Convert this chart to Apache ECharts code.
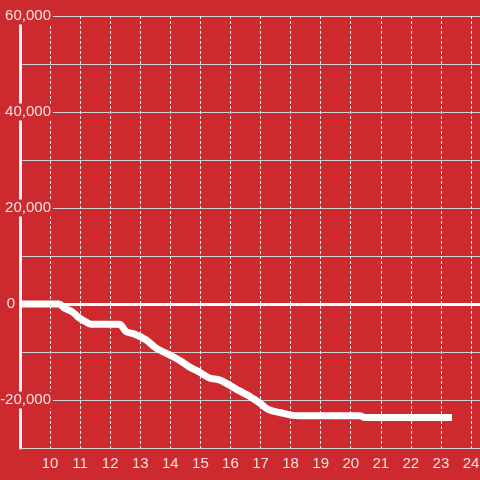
<!DOCTYPE html>
<html>
<head>
<meta charset="utf-8">
<script src="https://cdn.jsdelivr.net/npm/echarts@6/dist/echarts.min.js"></script>
<style>
  html, body { margin: 0; padding: 0; background: #cd2a2f; }
  #myChart { width: 480px; height: 480px; }
</style>
</head>
<body>
<div id="myChart"></div>
<script>
// hour of day
var hours = [9, 10.3, 10.47, 10.73, 10.97, 11.2, 11.37, 12.3, 12.53, 12.8, 13.2, 13.53, 13.97, 14.3, 14.63,
  14.97, 15.3, 15.63, 15.97, 16.3, 16.63, 16.97, 17.13, 17.3, 17.63, 17.97, 18.3, 20.3, 20.47, 23.37]
// running balance
var balance = [0, 0, -850, -1600, -2900, -3750, -4230, -4230, -5750, -6250, -7500, -9200, -10600, -11700, -13100,
  -14200, -15400, -15800, -16900, -18100, -19200, -20600, -21450, -22100, -22600, -23100, -23300, -23300, -23650, -23650]
var yTicks = [-20000, 0, 20000, 40000, 60000] // labelled ticks

var points = []
for (var i in hours) {
  points.push([hours[i], balance[i]])
}

var myChart = echarts.init(document.getElementById('myChart'))
var bg = '#cd2a2f'
var option = {
  backgroundColor: bg,
  animation: false,
  textStyle: { fontFamily: '"Liberation Sans", Arial, sans-serif' },
  grid: { left: 20, right: 0, top: 16, bottom: 32, containLabel: false, outerBoundsMode: 'none' },
  xAxis: {
    type: 'value',
    min: 9,
    max: 24.3,
    interval: 1,
    axisLine: { show: true, onZero: false, lineStyle: { color: '#d6d6d6', width: 1 } },
    axisTick: { show: false },
    axisLabel: { color: '#f6e1e1', fontSize: 15, margin: 8, showMinLabel: false, showMaxLabel: false },
    splitLine: { show: true, lineStyle: { color: '#eeeeee', type: [3, 2], width: 1 } }
  },
  yAxis: {
    type: 'value',
    min: -30000,
    max: 60000,
    interval: 10000,
    axisLine: { show: true, lineStyle: { color: '#f2f2f2', width: 3 } },
    axisTick: { show: false },
    axisLabel: {
      align: 'right',
      margin: -33,
      formatter: function (v) {
        if (yTicks.indexOf(v) < 0) return ''
        if (v === 0) return '{z|0}'
        return '{a|' + echarts.format.addCommas(v) + '}'
      },
      rich: {
        a: { color: '#f6e1e1', fontSize: 15, backgroundColor: bg, padding: [1, 2, 1, 2] },
        z: { color: '#f6e1e1', fontSize: 15, padding: [0, 38, 0, 0] }
      }
    },
    splitLine: { show: true, lineStyle: { color: '#d3d3d3', width: 1 } }
  },
  series: [{
    type: 'line',
    data: points,
    smooth: 0.3,
    showSymbol: false,
    lineStyle: { color: '#ffffff', width: 7, cap: 'butt' },
    markLine: {
      silent: true,
      symbol: 'none',
      label: { show: false },
      lineStyle: { color: '#ffffff', width: 3, type: 'solid' },
      data: [{ yAxis: 0 }]
    }
  }]
}
myChart.setOption(option)
</script>
</body>
</html>
